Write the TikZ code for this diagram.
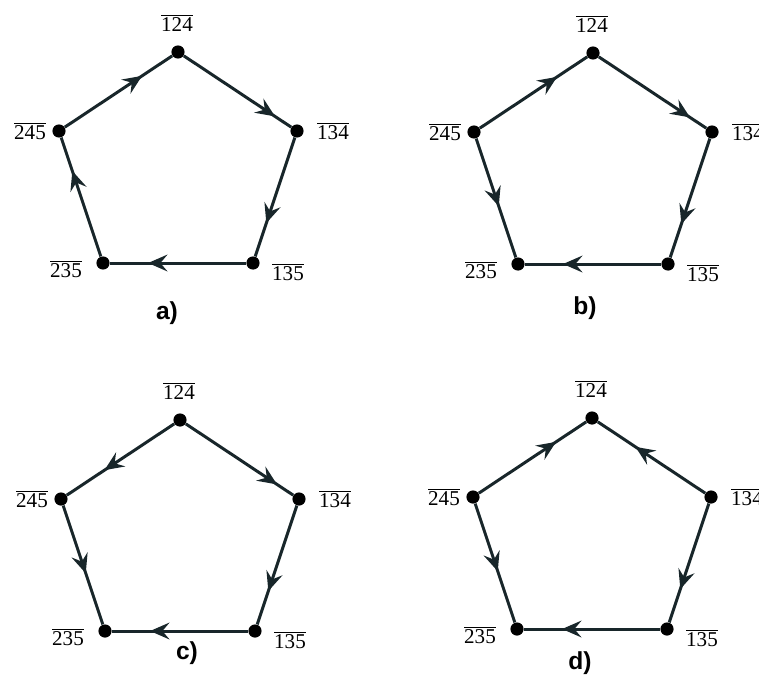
\documentclass[tikz,border=0pt]{standalone}
\usepackage{fontspec}
\setmainfont{Liberation Serif}
\newfontfamily\tagfont{Liberation Sans}
\usetikzlibrary{arrows.meta,decorations.markings,positioning}

\newcommand{\ov}[1]{$\overline{\mbox{#1}}$}
\definecolor{edgecol}{RGB}{24,38,42}

\tikzset{
  dot/.style={circle,fill=black,inner sep=0pt,minimum size=7.5pt},
  edge/.style={draw=edgecol,line width=1.7pt},
  fwd/.style={postaction={decorate},
    decoration={markings,
      mark=at position #1 with {\arrow{Stealth[length=11pt,width=9.5pt,inset=4pt]}}}},
  fwd/.default=0.72,
  vlabel/.style={inner sep=0pt,font=\fontsize{12}{14}\selectfont},
  tag/.style={inner sep=0pt,font=\tagfont\bfseries\fontsize{14}{16}\selectfont}
}

\begin{document}
\begin{tikzpicture}[x=0.02cm,y=-0.02cm]
  \useasboundingbox (0,0) rectangle (759,677);

  % vertices and their labels, same layout in every panel
  \foreach \p/\px/\py in {a/178/52, b/593/53, c/180/420, d/592/418}{
    \begin{scope}[shift={(\px,\py)}]
      \foreach \n/\x/\y/\lx/\ly in {124/0/0/-1/-29, 134/119/79/155/79,
          135/75/211/110/220, 235/-75/211/-112/217, 245/-119/79/-148/79}{
        \node[dot] (\p\n) at (\x,\y) {};
        \node[vlabel] (\p\n l) at (\lx,\ly) {\ov{\n}};
      }
    \end{scope}
  }

  % a)
  \draw[edge,fwd] (a245) -- (a124);
  \draw[edge,fwd=0.85] (a124) -- (a134);
  \draw[edge,fwd] (a134) -- (a135);
  \draw[edge,fwd] (a135) -- (a235);
  \draw[edge,fwd] (a235) -- (a245);
  \node[tag] (tagA) at (167,313) {a)};

  % b)
  \draw[edge,fwd] (b245) -- (b124);
  \draw[edge,fwd=0.85] (b124) -- (b134);
  \draw[edge,fwd] (b134) -- (b135);
  \draw[edge,fwd] (b135) -- (b235);
  \draw[edge,fwd=0.57] (b245) -- (b235);
  \node[tag] (tagB) at (585,308) {b)};

  % c)
  \draw[edge,fwd=0.65] (c124) -- (c245);
  \draw[edge,fwd=0.85] (c124) -- (c134);
  \draw[edge,fwd] (c134) -- (c135);
  \draw[edge,fwd] (c135) -- (c235);
  \draw[edge,fwd=0.57] (c245) -- (c235);
  \node[tag] (tagC) at (187,653) {c)};

  % d)
  \draw[edge,fwd] (d245) -- (d124);
  \draw[edge,fwd=0.65] (d134) -- (d124);
  \draw[edge,fwd] (d134) -- (d135);
  \draw[edge,fwd] (d135) -- (d235);
  \draw[edge,fwd=0.57] (d245) -- (d235);
  \node[tag] (tagD) at (580,663) {d)};
\end{tikzpicture}
\end{document}
